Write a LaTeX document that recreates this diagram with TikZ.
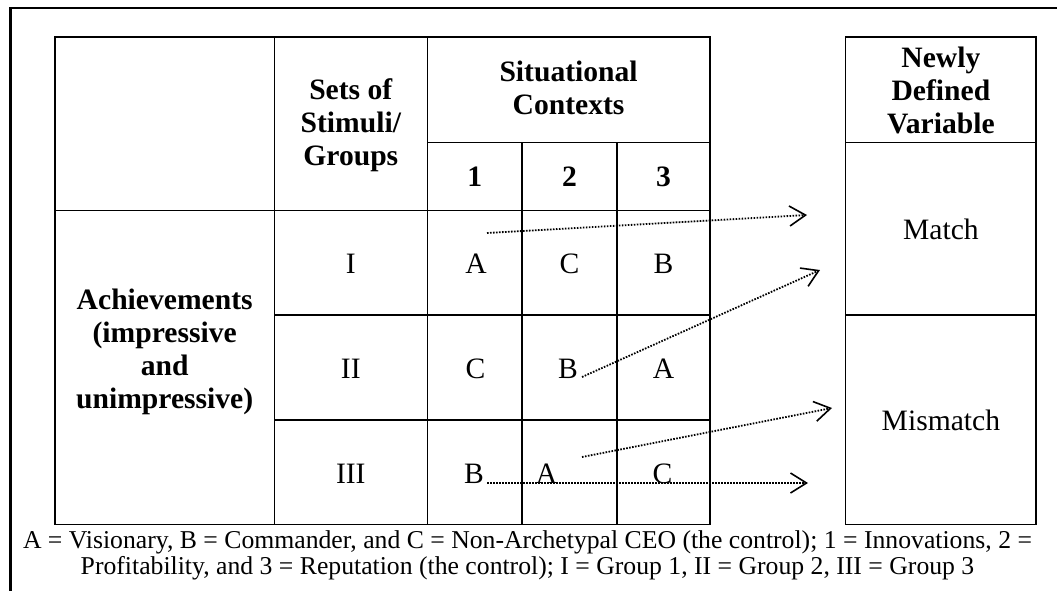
\documentclass[tikz,border=0pt]{standalone}
\usepackage{fontspec}
\setmainfont{Liberation Serif}
\usetikzlibrary{arrows.meta}

\begin{document}
\begin{tikzpicture}[x=1pt,y=-1pt,
  frame/.style={line width=2.7pt},
  grid/.style={line width=1.4pt},
  cell/.style={inner sep=0pt, font=\fontsize{29.6}{33}\selectfont},
  head/.style={inner sep=0pt, align=center, font=\fontsize{29.6}{33}\selectfont\bfseries},
  note/.style={inner sep=0pt, align=center, font=\fontsize{25.7}{26}\selectfont},
  link/.style={line width=1.8pt, dash pattern=on 1.6pt off 1.4pt,
    -{Straight Barb[length=16pt,width=20pt,line width=1.6pt]}},
]
\useasboundingbox (0,0) rectangle (1057,590);

% page frame (only its top and left sides fall inside the page)
\begin{scope}
  \clip (0,0) rectangle (1057,590);
  \draw[frame] (10.3,600) -- (10.3,8) -- (1070,8);
\end{scope}

% main table
\draw[grid] (55,37) rectangle (710,524.5);
\draw[grid] (274.3,37) -- (274.3,524.5);
\draw[grid] (427.3,37) -- (427.3,524.5);
\draw[grid] (522,142.3) -- (522,524.5);
\draw[grid] (617,142.3) -- (617,524.5);
\draw[grid] (427.3,142.3) -- (710,142.3);
\draw[grid] (55,210.3) -- (710,210.3);
\draw[grid] (274.3,315) -- (710,315);
\draw[grid] (274.3,420) -- (710,420);

% newly defined variable
\draw[grid] (845.7,37) rectangle (1036,524.5);
\draw[grid] (845.7,142.3) -- (1036,142.3);
\draw[grid] (845.7,315) -- (1036,315);

% header texts
\node[head] (sets) at (350.8,125) {Sets of\\Stimuli/\\Groups};
\node[head] (ctx) at (568.6,88) {Situational\\Contexts};
\node[head,anchor=base] (h1) at (474.7,186.7) {1};
\node[head,anchor=base] (h2) at (569.5,186.7) {2};
\node[head,anchor=base] (h3) at (663.5,186.7) {3};
\node[head] (newvar) at (940.9,90) {Newly\\Defined\\Variable};
\node[head] (ach) at (164.7,352) {Achievements\\(impressive\\and\\unimpressive)};

% groups
\node[cell,anchor=base] (g1) at (350.8,273) {I};
\node[cell,anchor=base] (g2) at (350.8,378) {II};
\node[cell,anchor=base] (g3) at (350.8,483) {III};

% stimuli per group and context
\node[cell,anchor=base] (a11) at (476,273) {A};
\node[cell,anchor=base] (a12) at (569.5,273) {C};
\node[cell,anchor=base] (a13) at (663.5,273) {B};
\node[cell,anchor=base] (a21) at (475.5,378) {C};
\node[cell,anchor=base] (a22) at (568,378) {B};
\node[cell,anchor=base] (a23) at (663.5,378) {A};
\node[cell,anchor=base] (a31) at (474,483) {B};
\node[cell,anchor=base] (a32) at (546.5,483) {A};
\node[cell,anchor=base] (a33) at (662.5,483) {C};

% outcome labels
\node[cell,anchor=base] (match) at (940.9,239) {Match};
\node[cell,anchor=base] (mismatch) at (940.9,430) {Mismatch};

% legend
\node[note] (legend) at (527.5,555)
  {A = Visionary, B = Commander, and C = Non-Archetypal CEO (the control); 1 = Innovations, 2 =\\
   Profitability, and 3 = Reputation (the control); I = Group 1, II = Group 2, III = Group 3};

% arrow ends
\coordinate (s1) at (487,233);
\coordinate (e1) at (807,215);
\coordinate (s2) at (582,377);
\coordinate (e2) at (820,270);
\coordinate (s3) at (582,457);
\coordinate (e3) at (832,408);
\coordinate (s4) at (487,483);
\coordinate (e4) at (808,483);

\draw[link] (s1) -- (e1);
\draw[link] (s2) -- (e2);
\draw[link] (s3) -- (e3);
\draw[link] (s4) -- (e4);
\end{tikzpicture}
\end{document}
